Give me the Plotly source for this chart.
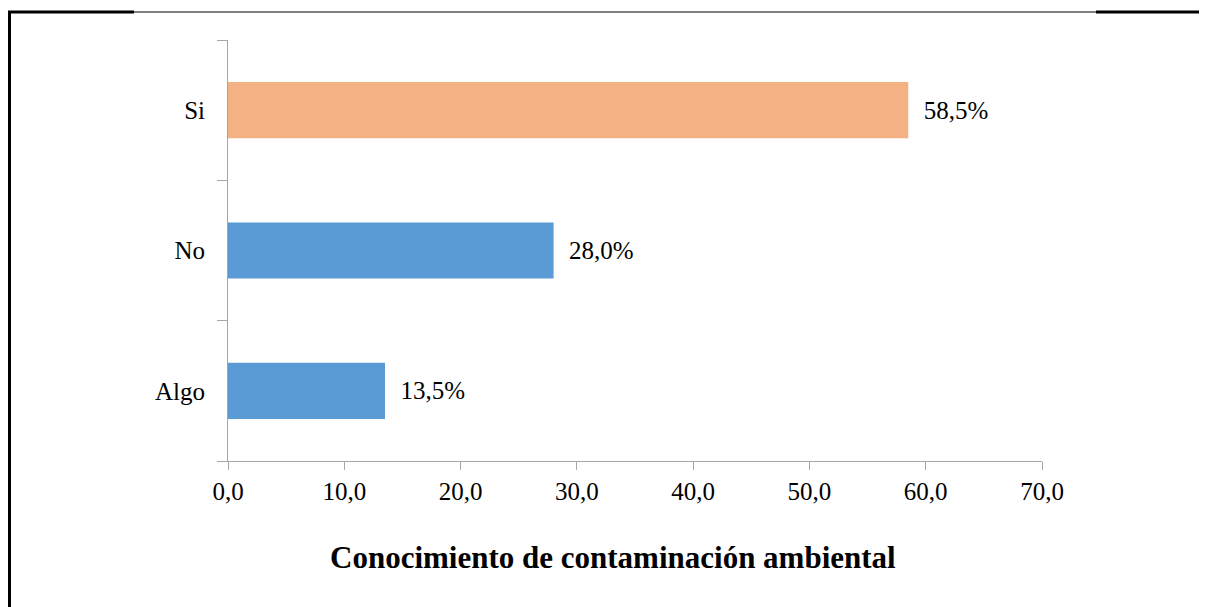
import plotly.graph_objects as go

categorias = ['Algo', 'No', 'Si']
porcentajes = [13.5, 28.0, 58.5]
etiquetas = ['13,5%', '28,0%', '58,5%']
colores = ['#5B9BD5', '#5B9BD5', '#F4B183']
ticks_x = [0, 10, 20, 30, 40, 50, 60, 70]

fig = go.Figure()
fig.add_trace(go.Bar(
    y=categorias, x=porcentajes, orientation='h',
    marker=dict(color=colores, line=dict(width=0)),
    text=['  ' + e for e in etiquetas], textposition='outside',
    textfont=dict(family='Liberation Serif', size=25, color='black'),
    cliponaxis=False, showlegend=False,
))

eje = '#A6A6A6'
# la pagina tiene 8px de margen, se descuenta del tamaño
fig.update_layout(
    width=1199, height=599,
    margin=dict(l=220, r=165, t=32, b=146),
    paper_bgcolor='white', plot_bgcolor='white',
    separators=',.',
    bargap=0.6,
    font=dict(family='Liberation Serif', size=25, color='black'),
    xaxis=dict(range=[0, 70], tickvals=ticks_x, tickformat='.1f',
               showgrid=False, zeroline=False, showline=True, linecolor=eje, linewidth=1,
               ticks='outside', ticklen=8, tickcolor=eje, tickfont=dict(size=25)),
    yaxis=dict(range=[-0.5, 2.5], showgrid=False, zeroline=False,
               showline=True, linecolor=eje, linewidth=1,
               ticks='outside', ticklen=10, tickcolor=eje, tickson='boundaries',
               tickfont=dict(size=25), ticklabelstandoff=17),
)

fig.add_annotation(
    text='<b>Conocimiento de contaminación ambiental</b>',
    xref='paper', yref='paper', x=(613 - 228) / 814, y=(461 - 557) / 421,
    xanchor='center', yanchor='middle', showarrow=False,
    font=dict(family='Liberation Serif', size=31, color='black'),
)

# marco de la tabla
def px_x(p):
    return (p - 228) / 814

def px_y(p):
    return (461 - p) / 421

marco = [
    (8, 12, 134, 12, 3),
    (134, 12, 1096, 12, 1),
    (1096, 12, 1220, 12, 3),
    (9.5, 11, 9.5, 620, 3),
]
for x0, y0, x1, y1, w in marco:
    fig.add_shape(type='line', xref='paper', yref='paper',
                  x0=px_x(x0), y0=px_y(y0), x1=px_x(x1), y1=px_y(y1),
                  line=dict(color='black', width=w))

fig.write_html("out.html")
